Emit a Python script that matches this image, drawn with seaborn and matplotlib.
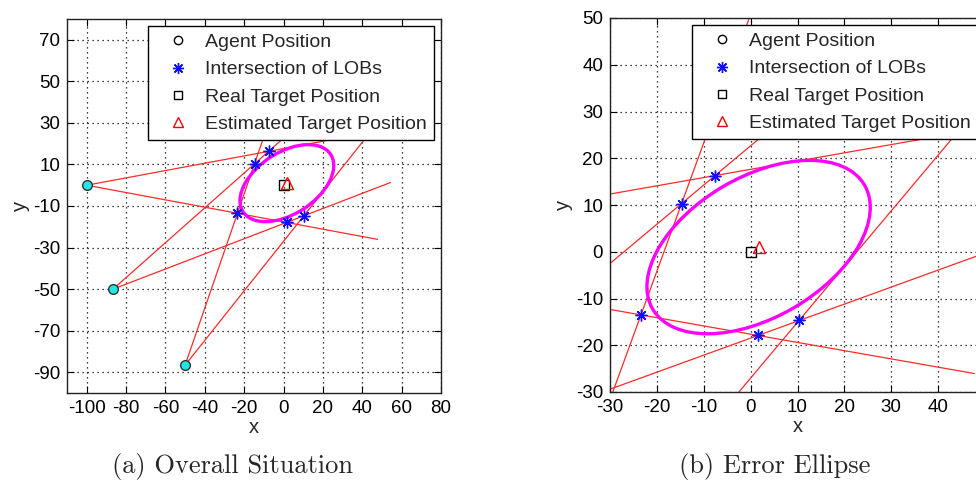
import numpy as np
import pandas as pd
import matplotlib
matplotlib.use("Agg")
import matplotlib.pyplot as plt
from matplotlib.lines import Line2D
from matplotlib.patches import Ellipse
import seaborn as sns

# Agents placed on a 100 m circle around the target
agent_x = [-100.0, -86.6, -50.0]
agent_y = [0.0, -50.0, -86.6]
# Two lines of bearing per agent (degrees from +x axis)
lob_bearing = [[10.0, -10.0], [40.0, 20.0], [70.0, 50.0]]
lob_length = 150.0

# Intersections of neighbouring LOBs
inter_x = [-7.6, -14.7, -23.4, 1.6, 10.3, 44.0]
inter_y = [16.3, 10.3, -13.5, -17.9, -14.7, 25.4]

real_target = (0.0, 0.0)
est_target = (1.7, 1.0)

# Error ellipse: semi-axes and orientation
ell_a, ell_b, ell_angle = 26.2, 15.0, 30.5

left_xticks = list(range(-100, 81, 20))
left_yticks = list(range(-90, 71, 20))
right_xticks = list(range(-30, 41, 10))
right_yticks = list(range(-30, 51, 10))

captions = ["(a) Overall Situation", "(b) Error Ellipse"]
legend_labels = ["Agent Position", "Intersection of LOBs",
                 "Real Target Position", "Estimated Target Position"]

sns.set_theme(style="ticks")
plt.rcParams["font.family"] = ["Liberation Sans", "DejaVu Sans"]
plt.rcParams["axes.unicode_minus"] = False

# LOB segments as a long table
rows = []
for i, (ax_, ay_) in enumerate(zip(agent_x, agent_y)):
    for j, b in enumerate(lob_bearing[i]):
        ex = ax_ + lob_length * np.cos(np.radians(b))
        ey = ay_ + lob_length * np.sin(np.radians(b))
        rows.append({"lob": f"{i}-{j}", "x": ax_, "y": ay_})
        rows.append({"lob": f"{i}-{j}", "x": ex, "y": ey})
lobs = pd.DataFrame(rows)
inter = pd.DataFrame({"x": inter_x, "y": inter_y})
agents = pd.DataFrame({"x": agent_x, "y": agent_y})

W, H = 976, 484
fig = plt.figure(figsize=(W / 100, H / 100), dpi=100)
ax1 = fig.add_axes([67 / W, (H - 393) / H, 374 / W, 374 / H])
ax2 = fig.add_axes([610 / W, (H - 392) / H, 375 / W, 374 / H])

star = (8, 2, 0)


def draw(ax):
    sns.lineplot(data=lobs, x="x", y="y", units="lob", estimator=None, sort=False,
                 color="#ff2a2a", lw=0.9, ax=ax, legend=False, zorder=2)
    ax.add_patch(Ellipse(est_target, 2 * ell_a, 2 * ell_b, angle=ell_angle,
                         fill=False, edgecolor="#ff00ff", lw=2.4, zorder=3))
    ax.plot(inter["x"], inter["y"], ls="none", marker=star, ms=8.5, mew=1.0,
            color="#1010ff", zorder=5)
    ax.plot(agents["x"], agents["y"], ls="none", marker="o", ms=7,
            mfc="#22e5e5", mec="#333333", mew=1.0, zorder=5)
    ax.plot([real_target[0]], [real_target[1]], ls="none", marker="s", ms=7.5,
            mfc="none", mec="black", mew=1.0, zorder=5)
    ax.plot([est_target[0]], [est_target[1]], ls="none", marker="^", ms=8.5,
            mfc="none", mec="red", mew=1.0, zorder=5)
    ax.grid(True, color="black", lw=0.9, ls=(0, (1, 3)))
    ax.tick_params(direction="in", top=True, right=True, length=5, width=0.8,
                   labelsize=13.5, colors="black", pad=5)
    for s in ax.spines.values():
        s.set_visible(True)
        s.set_color("#222222")
        s.set_linewidth(1.0)
    ax.set_xlabel("x", fontsize=14.5, labelpad=1)
    ax.set_ylabel("y", fontsize=14.5, labelpad=2)
    handles = [
        Line2D([], [], ls="none", marker="o", ms=6, mfc="none", mec="black"),
        Line2D([], [], ls="none", marker=star, ms=8, mew=1.0, color="#1010ff"),
        Line2D([], [], ls="none", marker="s", ms=6, mfc="none", mec="black"),
        Line2D([], [], ls="none", marker="^", ms=7, mfc="none", mec="red"),
    ]
    leg = ax.legend(handles, legend_labels, loc="upper right", fontsize=14,
                    frameon=True, fancybox=False, framealpha=1, edgecolor="black",
                    borderaxespad=0.38, handletextpad=0.25, labelspacing=0.5,
                    borderpad=0.36, handlelength=2.3)
    leg.get_frame().set_linewidth(1.0)
    leg.set_zorder(10)


draw(ax1)
ax1.set_xlim(-110, 80)
ax1.set_ylim(-100, 80)
ax1.set_xticks(left_xticks)
ax1.set_yticks(left_yticks)

draw(ax2)
ax2.set_xlim(-30, 50)
ax2.set_ylim(-30, 50)
ax2.set_xticks(right_xticks)
ax2.set_yticks(right_yticks)

fig.text(232 / W, 1 - 467 / H, captions[0], ha="center", va="center",
         fontsize=19, family="cmr10")
fig.text(775 / W, 1 - 467 / H, captions[1], ha="center", va="center",
         fontsize=19, family="cmr10")

fig.savefig("out.png", dpi=100)
